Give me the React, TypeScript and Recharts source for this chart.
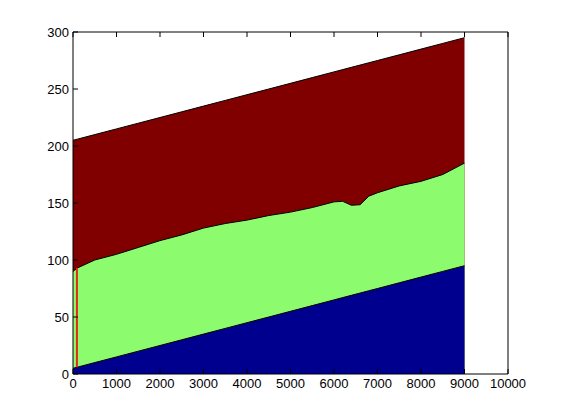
import { AreaChart, Area, XAxis, YAxis, ReferenceLine } from 'recharts'

// x positions (samples along the horizontal axis)
const xValues = [0, 100, 500, 1000, 1500, 2000, 2500, 3000, 3500, 4000, 4500, 5000, 5500, 6000, 6200, 6400, 6600, 6800, 7000, 7500, 8000, 8500, 9000]
// top of each layer
const blueTop = [5, 6, 10, 15, 20, 25, 30, 35, 40, 45, 50, 55, 60, 65, 67, 69, 71, 73, 75, 80, 85, 90, 95]
const greenTop = [90, 93, 100, 105, 111, 117, 122, 128, 132, 135, 139, 142, 146, 151, 151.5, 148, 148.5, 156, 159, 165, 169, 175, 185]
const redTop = [205, 206, 210, 215, 220, 225, 230, 235, 240, 245, 250, 255, 260, 265, 267, 269, 271, 273, 275, 280, 285, 290, 295]

const xTicks = [0, 1000, 2000, 3000, 4000, 5000, 6000, 7000, 8000, 9000, 10000]
const yTicks = [0, 50, 100, 150, 200, 250, 300]

// red marker segment near the left edge
const markerX = 90
const markerFrom = 6
const markerTo = 93

const data = xValues.map((x, i) => ({
    x,
    blue: blueTop[i],
    green: greenTop[i],
    red: redTop[i],
}))

const tickStyle = { fontSize: 13, fill: '#000', fontFamily: 'Liberation Sans, Arial, sans-serif' }

export default function App() {
    return (
        <div style={{ position: 'absolute', left: 0, top: 0, width: 561, height: 420, background: '#fff' }}>
            <AreaChart
                width={561}
                height={420}
                data={data}
                margin={{ top: 22, right: 43, left: 0, bottom: 16 }}
            >
                <XAxis
                    xAxisId="b"
                    dataKey="x"
                    type="number"
                    domain={[0, 10000]}
                    ticks={xTicks}
                    height={30}
                    tickSize={-5}
                    tickMargin={10}
                    stroke="#000"
                    tick={tickStyle}
                    interval={0}
                    allowDataOverflow
                />
                <XAxis
                    xAxisId="t"
                    dataKey="x"
                    type="number"
                    orientation="top"
                    domain={[0, 10000]}
                    ticks={xTicks}
                    height={10}
                    tickSize={-5}
                    stroke="#000"
                    tickFormatter={() => ''}
                    interval={0}
                />
                <YAxis
                    yAxisId="l"
                    type="number"
                    domain={[0, 300]}
                    ticks={yTicks}
                    width={73}
                    tickSize={-5}
                    tickMargin={9}
                    stroke="#000"
                    tick={tickStyle}
                    interval={0}
                />
                <YAxis
                    yAxisId="r"
                    type="number"
                    orientation="right"
                    domain={[0, 300]}
                    ticks={yTicks}
                    width={10}
                    tickSize={-5}
                    stroke="#000"
                    tickFormatter={() => ''}
                    interval={0}
                />
                <Area
                    xAxisId="b"
                    yAxisId="l"
                    type="linear"
                    dataKey="red"
                    fill="#800000"
                    fillOpacity={1}
                    stroke="#000"
                    strokeWidth={1}
                    isAnimationActive={false}
                />
                <Area
                    xAxisId="b"
                    yAxisId="l"
                    type="linear"
                    dataKey="green"
                    fill="#8dfb6e"
                    fillOpacity={1}
                    stroke="#000"
                    strokeWidth={1}
                    isAnimationActive={false}
                />
                <Area
                    xAxisId="b"
                    yAxisId="l"
                    type="linear"
                    dataKey="blue"
                    fill="#00008f"
                    fillOpacity={1}
                    stroke="#000"
                    strokeWidth={1}
                    isAnimationActive={false}
                />
                <ReferenceLine
                    xAxisId="b"
                    yAxisId="l"
                    segment={[{ x: markerX, y: markerFrom }, { x: markerX, y: markerTo }]}
                    stroke="#e8261a"
                    strokeWidth={2}
                />
            </AreaChart>
        </div>
    )
}
